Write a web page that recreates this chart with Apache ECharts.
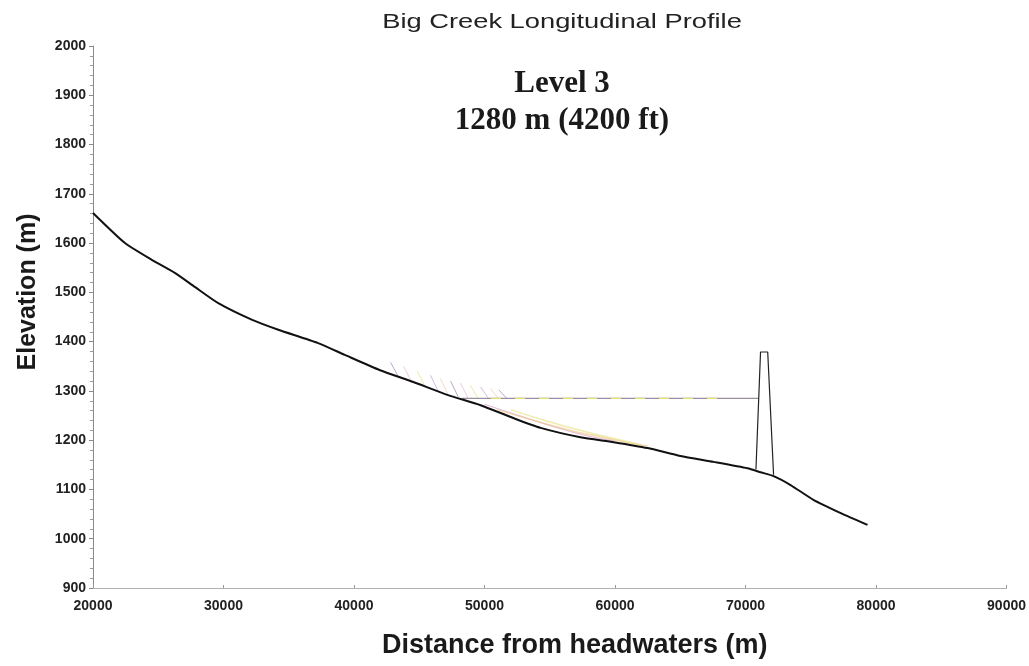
<!DOCTYPE html>
<html>
<head>
<meta charset="utf-8">
<script src="https://cdn.jsdelivr.net/npm/echarts@6/dist/echarts.min.js"></script>
<style>
html,body{margin:0;padding:0;background:#fff;}
#chart{width:1029px;height:666px;}
</style>
</head>
<body>
<div id="chart"></div>
<script>
// Longitudinal profile of the creek bed (distance m, elevation m)
const profileX = [20000,22450,24500,26300,27800,29600,32200,34200,37250,39300,42000,44550,47150,49700,52200,54300,57350,59900,62500,65000,67550,70150,71150,72150,73450,75200,77300,79350];
const profileY = [1661,1600,1566,1539,1511,1478,1444,1424,1397,1373,1342,1318,1292,1271,1245,1225,1206,1196,1184,1168,1156,1143,1135,1127,1109,1079,1052,1028];

// Dam outline
const damX = [70800,71150,71700,72150];
const damY = [1141,1379,1379,1130];

// Reservoir water level (Level 3)
const poolX = [48300,71000];
const poolY = [1285,1285];
const poolDashX = [50500,68000];

// Short hatch strokes at the upstream end of the pool
const hatchX0 = [42800,43800,44850,45850,46600,47400,48150,48900,49700,50450,51100];
const hatchY0 = [1358,1350,1340,1332,1326,1320,1316,1312,1308,1305,1302];
const hatchX1 = [43400,44400,45450,46450,47200,48000,48750,49500,50300,51050,51700];
const hatchY1 = [1329,1319,1309,1300,1293,1287,1285,1285,1285,1285,1285];

// Deposition fan lines below the pool
const fanAX = [51000,53000,55000,57000,59000,61000,62500];
const fanAY = [1262,1246,1231,1217,1206,1195,1188];
const fanBX = [52000,54500,57000,59500,62000];
const fanBY = [1262,1241,1222,1206,1191];
const fanCX = [50000,52500,55000,57500,60000];
const fanCY = [1273,1251,1230,1211,1198];

const xTicks = {min:20000, max:90000, step:10000};
const yTicks = {min:900, max:2000, step:100};

const zip = (xs, ys) => xs.map((x,i)=>[x, ys[i]]);

const hatchColors = ['#8e6aa0','#e6a8c8','#e3dc72','#b890c8','#f0c0a0'];
const series = [];
hatchX0.forEach((x,i)=>{
  series.push({
    type:'line', data:[[x,hatchY0[i]],[hatchX1[i],hatchY1[i]]],
    symbol:'none', silent:true,
    lineStyle:{color:hatchColors[i%hatchColors.length], width:1, opacity:0.6}
  });
});
series.push({type:'line', data:zip(fanCX,fanCY), symbol:'none', smooth:true, lineStyle:{color:'#d8a0c8', width:1.2, opacity:0.7}});
series.push({type:'line', data:zip(fanAX,fanAY), symbol:'none', smooth:true, lineStyle:{color:'#f0c890', width:1.5, opacity:0.7}});
series.push({type:'line', data:zip(fanBX,fanBY), symbol:'none', smooth:true, lineStyle:{color:'#e8e488', width:1.5, opacity:0.7}});
series.push({type:'line', data:zip(poolX,poolY), symbol:'none', lineStyle:{color:'#9c8e9e', width:1.2}});
series.push({type:'line', data:zip(poolDashX,[poolY[0],poolY[0]]), symbol:'none', lineStyle:{color:'#e6e070', width:1.2, type:[10,14]}});
series.push({type:'line', data:zip(damX,damY), symbol:'none', lineStyle:{color:'#222', width:1.2}});
series.push({type:'line', data:zip(profileX,profileY), symbol:'none', smooth:0.2, lineStyle:{color:'#111', width:2}});

const chart = echarts.init(document.getElementById('chart'));
chart.setOption({
  animation:false,
  backgroundColor:'#fff',
  grid:{left:93, right:21, top:46, bottom:78},
  xAxis:{
    type:'value', min:xTicks.min, max:xTicks.max, interval:xTicks.step,
    name:'Distance from headwaters (m)', nameLocation:'middle', nameGap:44,
    nameTextStyle:{fontFamily:'Liberation Sans, Arial', fontWeight:'bold', fontSize:27, color:'#1a1a1a', padding:[0,0,0,50]},
    axisLine:{lineStyle:{color:'#b0b0b0', width:1}},
    axisTick:{inside:true, length:3, lineStyle:{color:'#999'}},
    axisLabel:{fontFamily:'Liberation Sans, Arial', fontWeight:'bold', fontSize:14, color:'#222', margin:11, formatter:v=>String(v)},
    splitLine:{show:false}
  },
  yAxis:{
    type:'value', min:yTicks.min, max:yTicks.max, interval:yTicks.step,
    name:'Elevation (m)', nameLocation:'middle', nameRotate:90, nameGap:52,
    nameTextStyle:{fontFamily:'Liberation Sans, Arial', fontWeight:'bold', fontSize:25, color:'#1a1a1a', padding:[0,0,0,50]},
    axisLine:{show:true, lineStyle:{color:'#8a8a8a', width:1}},
    axisTick:{length:4, lineStyle:{color:'#8a8a8a'}},
    minorTick:{show:true, splitNumber:5, length:3, lineStyle:{color:'#9a9a9a'}},
    axisLabel:{fontFamily:'Liberation Sans, Arial', fontWeight:'bold', fontSize:14, color:'#222', margin:7, formatter:v=>String(v)},
    splitLine:{show:false}
  },
  graphic:[
    {type:'text', x:562, y:22, scaleX:1.3, originX:0, originY:0,
      style:{text:'Big Creek Longitudinal Profile', fontFamily:'Liberation Sans, Arial', fontSize:21, fill:'#222', textAlign:'center', textVerticalAlign:'middle'}},
    {type:'text', x:562, y:84,
      style:{text:'Level 3', fontFamily:'Liberation Serif, Times New Roman', fontWeight:'bold', fontSize:31, fill:'#1a1a1a', textAlign:'center', textVerticalAlign:'middle'}},
    {type:'text', x:562, y:121,
      style:{text:'1280 m (4200 ft)', fontFamily:'Liberation Serif, Times New Roman', fontWeight:'bold', fontSize:31, fill:'#1a1a1a', textAlign:'center', textVerticalAlign:'middle'}}
  ],
  series: series
});
</script>
</body>
</html>
